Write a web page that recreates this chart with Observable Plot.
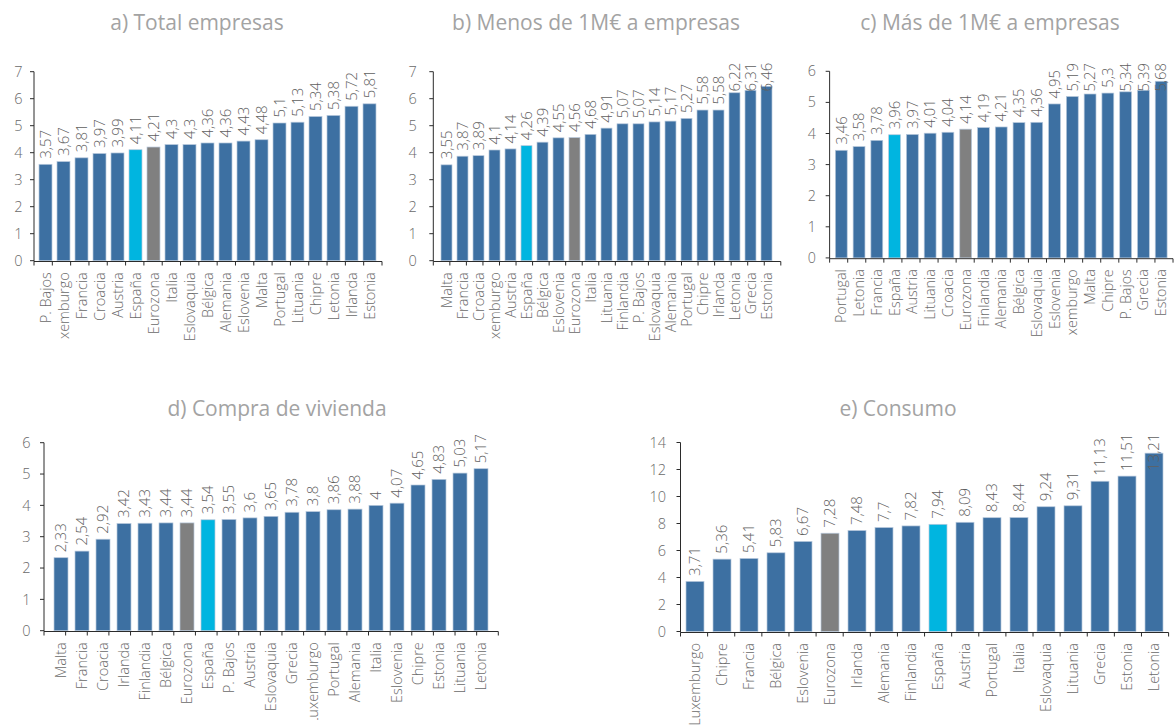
<!DOCTYPE html>
<html><head><meta charset="utf-8">
<script src="https://cdn.jsdelivr.net/npm/d3@7"></script>
<script src="https://cdn.jsdelivr.net/npm/@observablehq/plot@0.6"></script>
<style>
html,body{margin:0;padding:0;background:#fff;overflow:hidden}
#root{position:relative;width:1175px;height:725px;overflow:hidden;background:#fff}
.panel{position:absolute}
.panel svg{display:block}
.title{position:absolute;transform:translateX(-50%);white-space:nowrap;font-family:"Open Sans",sans-serif;font-size:21px;line-height:21px;color:#a3a3a3}
</style></head><body><div id="root"></div>
<script>
// ---------- data ----------
const titles = ["a) Total empresas", "b) Menos de 1M€ a empresas", "c) Más de 1M€ a empresas", "d) Compra de vivienda", "e) Consumo"];

const catA = ["P. Bajos","Luxemburgo","Francia","Croacia","Austria","España","Eurozona","Italia","Eslovaquia","Bélgica","Alemania","Eslovenia","Malta","Portugal","Lituania","Chipre","Letonia","Irlanda","Estonia"];
const valA = [3.57,3.67,3.81,3.97,3.99,4.11,4.21,4.3,4.3,4.36,4.36,4.43,4.48,5.1,5.13,5.34,5.38,5.72,5.81];

const catB = ["Malta","Francia","Croacia","Luxemburgo","Austria","España","Bélgica","Eslovenia","Eurozona","Italia","Lituania","Finlandia","P. Bajos","Eslovaquia","Alemania","Portugal","Chipre","Irlanda","Letonia","Grecia","Estonia"];
const valB = [3.55,3.87,3.89,4.1,4.14,4.26,4.39,4.55,4.56,4.68,4.91,5.07,5.07,5.14,5.17,5.27,5.58,5.58,6.22,6.31,6.46];

const catC = ["Portugal","Letonia","Francia","España","Austria","Lituania","Croacia","Eurozona","Finlandia","Alemania","Bélgica","Eslovaquia","Eslovenia","Luxemburgo","Malta","Chipre","P. Bajos","Grecia","Estonia"];
const valC = [3.46,3.58,3.78,3.96,3.97,4.01,4.04,4.14,4.19,4.21,4.35,4.36,4.95,5.19,5.27,5.3,5.34,5.39,5.68];

const catD = ["Malta","Francia","Croacia","Irlanda","Finlandia","Bélgica","Eurozona","España","P. Bajos","Austria","Eslovaquia","Grecia","Luxemburgo","Portugal","Alemania","Italia","Eslovenia","Chipre","Estonia","Lituania","Letonia"];
const valD = [2.33,2.54,2.92,3.42,3.43,3.44,3.44,3.54,3.55,3.6,3.65,3.78,3.8,3.86,3.88,4,4.07,4.65,4.83,5.03,5.17];

const catE = ["Luxemburgo","Chipre","Francia","Bélgica","Eslovenia","Eurozona","Irlanda","Alemania","Finlandia","España","Austria","Portugal","Italia","Eslovaquia","Lituania","Grecia","Estonia","Letonia"];
const valE = [3.71,5.36,5.41,5.83,6.67,7.28,7.48,7.7,7.82,7.94,8.09,8.43,8.44,9.24,9.31,11.13,11.51,13.21];

const yTicksA = [0,1,2,3,4,5,6,7];
const yTicksB = [0,1,2,3,4,5,6,7];
const yTicksC = [0,1,2,3,4,5,6];
const yTicksD = [0,1,2,3,4,5,6];
const yTicksE = [0,2,4,6,8,10,12,14];

// ---------- styling ----------
const colBar = "#3D70A2", colSpain = "#00B5E0", colEuro = "#808080";
const colorFor = c => c === "España" ? colSpain : c === "Eurozona" ? colEuro : colBar;
const fmt = v => String(v).replace(".", ",");

// layout of each panel (positions only)
const panels = [
  {cats: catA, vals: valA, ticks: yTicksA, title: titles[0], tx: 197, ty: 12,
   left: 0, top: 40, width: 392, height: 300, mL: 34, mR: 10, mT: 31.7, mB: 79.3, yPad: 12, pad: 0.27},
  {cats: catB, vals: valB, ticks: yTicksB, title: titles[1], tx: 596, ty: 12,
   left: 392, top: 40, width: 392, height: 300, mL: 41.3, mR: 3.2, mT: 31.7, mB: 79.3, yPad: 17, pad: 0.3},
  {cats: catC, vals: valC, ticks: yTicksC, title: titles[2], tx: 990, ty: 12,
   left: 784, top: 40, width: 396, height: 300, mL: 46.2, mR: 2, mT: 31.7, mB: 79.3, yPad: 14.5, pad: 0.33},
  {cats: catD, vals: valD, ticks: yTicksD, title: titles[3], tx: 277, ty: 398,
   left: 0, top: 420, width: 510, height: 300, mL: 44, mR: 11.7, mT: 22.7, mB: 89.3, yPad: 14, pad: 0.33},
  {cats: catE, vals: valE, ticks: yTicksE, title: titles[4], tx: 898, ty: 398,
   left: 600, top: 420, width: 575, height: 305, mL: 80.5, mR: 6.4, mT: 22.5, mB: 93.5, yPad: 15, pad: 0.35}
];

const root = document.getElementById("root");
const fixers = [];

for (const p of panels) {
  const data = p.cats.map((c, i) => ({c, v: p.vals[i]}));
  const yMax = p.ticks[p.ticks.length - 1];

  // axis lines + tick marks at band boundaries (drawn from the scales)
  const axesMark = (index, scales, values, dims) => {
    const {y} = scales;
    const x0 = dims.marginLeft, x1 = dims.width - dims.marginRight;
    const n = p.cats.length, step = (x1 - x0) / n;
    const g = d3.create("svg:g").attr("stroke", "#2b2b2b").attr("stroke-width", 1).attr("fill", "none");
    const y0 = Math.round(y(0)) + 0.5;
    g.append("line").attr("x1", x0).attr("x2", x0).attr("y1", y(yMax)).attr("y2", y0);
    g.append("line").attr("x1", x0).attr("x2", x1).attr("y1", y0).attr("y2", y0);
    for (const t of p.ticks) {
      g.append("line").attr("x1", x0 - 4).attr("x2", x0).attr("y1", y(t)).attr("y2", y(t));
    }
    for (let i = 0; i <= n; i++) {
      const xx = x0 + i * step;
      g.append("line").attr("x1", xx).attr("x2", xx).attr("y1", y0).attr("y2", y0 + 4);
    }
    return g.node();
  };

  const svg = Plot.plot({
    width: p.width, height: p.height,
    marginLeft: p.mL, marginRight: p.mR, marginTop: p.mT, marginBottom: p.mB,
    style: {fontFamily: '"Open Sans", sans-serif', fontSize: "14.5px", fontWeight: 300, color: "#6a6a6a", background: "transparent", overflow: "hidden"},
    x: {domain: p.cats, paddingInner: p.pad, paddingOuter: p.pad / 2, align: 0.5,
        tickSize: 0, tickPadding: 11, tickRotate: -90, label: null},
    y: {domain: [0, yMax], ticks: p.ticks, tickSize: 0, tickPadding: p.yPad, label: null, tickFormat: d => String(d)},
    marks: [
      Plot.barY(data, {x: "c", y: "v", fill: d => colorFor(d.c), stroke: "#b7c8dc", strokeWidth: 0.7}),
      Plot.text(data, {x: "c", y: "v", text: d => fmt(d.v), rotate: -90, textAnchor: "start", dy: -6,
                       fill: "#606060", fontSize: 15, ariaLabel: d => "valor " + fmt(d.v), ariaDescription: "valores"}),
      axesMark
    ]
  });

  const div = document.createElement("div");
  div.className = "panel";
  div.style.left = p.left + "px";
  div.style.top = p.top + "px";
  div.appendChild(svg);
  root.appendChild(div);

  // keep value labels inside the chart area (as the original does)
  const limit = p.mT - 9;
  const fix = () => {
    const nodes = new Set([
      ...svg.querySelectorAll('text[aria-label^="valor"]'),
      ...svg.querySelectorAll('g[aria-description="valores"] text')
    ]);
    nodes.forEach(t => {
      const L = t.getComputedTextLength();
      const m = t.getCTM();
      if (!m) return;
      const anchorY = m.f;
      if (anchorY - L < limit - 0.01) {
        const tr = t.getAttribute("transform") || "";
        const mm = /translate\(\s*([-\d.e]+)[\s,]+([-\d.e]+)\s*\)/.exec(tr);
        if (mm) {
          const ny = +mm[2] + (limit + L - anchorY);
          t.setAttribute("transform", tr.replace(mm[0], `translate(${mm[1]},${ny})`));
        }
      }
    });
  };
  fix();
  fixers.push(fix);

  const tdiv = document.createElement("div");
  tdiv.className = "title";
  tdiv.textContent = p.title;
  tdiv.style.left = p.tx + "px";
  tdiv.style.top = p.ty + "px";
  root.appendChild(tdiv);
}
if (document.fonts && document.fonts.ready) document.fonts.ready.then(() => fixers.forEach(f => f()));
</script>
</body></html>
